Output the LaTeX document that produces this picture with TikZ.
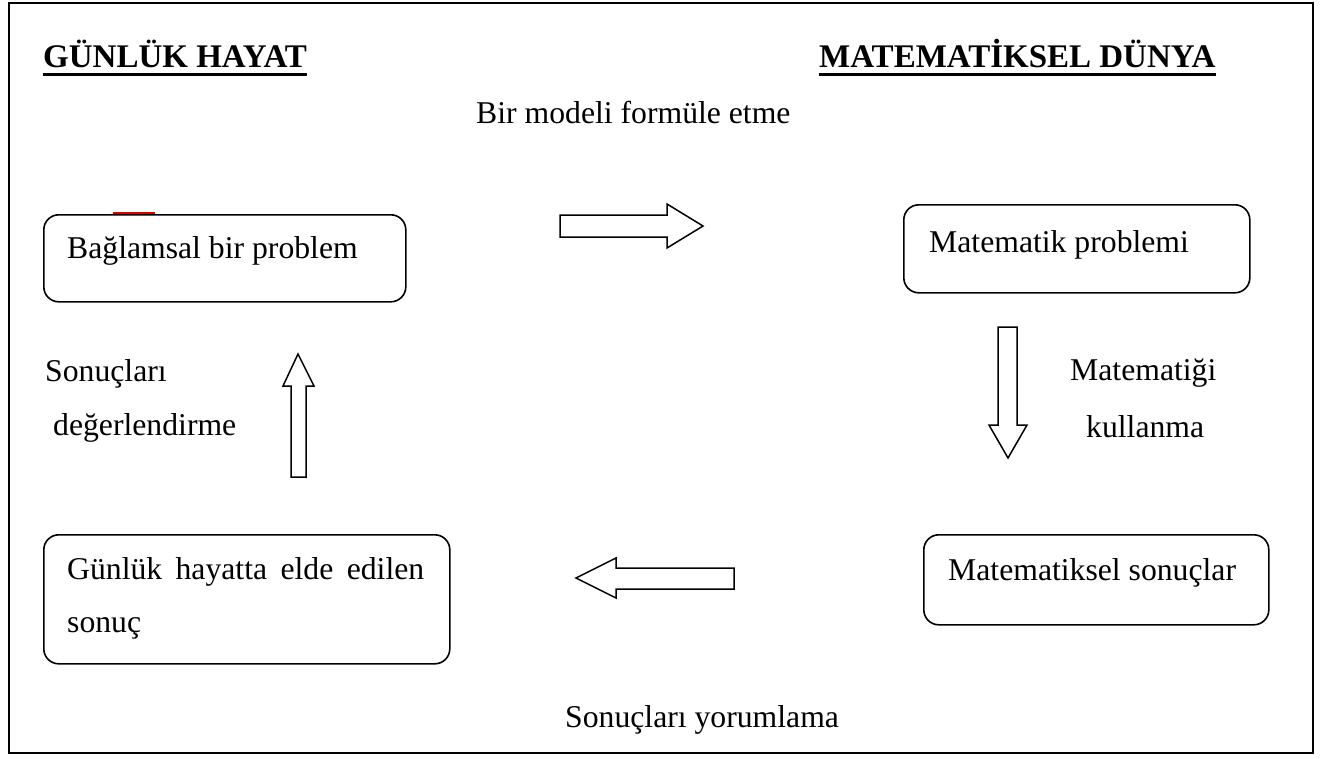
\documentclass[tikz,border=0pt]{standalone}
\usepackage{fontspec}
\setmainfont{Liberation Serif}
\begin{document}
\begin{tikzpicture}[x=1pt,y=-1pt,
  box/.style={draw=black,line width=1.6pt,rounded corners=15pt,fill=white,inner sep=0pt,anchor=north west},
  txt/.style={inner sep=0pt,anchor=base west,font=\fontsize{31.7}{38}\selectfont},
  head/.style={inner sep=0pt,anchor=base west,font=\fontsize{33}{40}\selectfont\bfseries},
  blockarrow/.style={draw=black,line width=1.5pt,fill=white,line join=miter}]
\useasboundingbox (0,0) rectangle (1324,758);
\fill[white] (0,0) rectangle (1324,758);
\draw[line width=2pt] (9,3) rectangle (1313,753);
% headings
\node[head] (h1) at (43,67) {GÜNLÜK HAYAT};
\node[head] (h2) at (819,67) {MATEMATİKSEL DÜNYA};
\draw[line width=3pt] ([yshift=-7pt]h1.base west) -- ([yshift=-7pt]h1.base east);
\draw[line width=3pt] ([yshift=-7pt]h2.base west) -- ([yshift=-7pt]h2.base east);
% label top
\node[txt] (l1) at (476,123) {Bir modeli formüle etme};
% small red mark
\draw[red!85!black,line width=2.5pt] (113,213) -- (155,213);
% boxes
\node[box,minimum width=362pt,minimum height=87pt] (b1) at (43,214) {};
\node[txt] (t1) at (67,258) {Bağlamsal bir problem};
\node[box,minimum width=346pt,minimum height=88pt] (b2) at (903,204) {};
\node[txt] (t2) at (929,252) {Matematik problemi};
\node[box,minimum width=345pt,minimum height=90pt] (b3) at (923,534) {};
\node[txt] (t3) at (948,580) {Matematiksel sonuçlar};
\node[box,minimum width=406pt,minimum height=129pt] (b4) at (43,534) {};
\node[txt] (t4a) at (67,579) {\makebox[357pt][s]{Günlük hayatta elde edilen}};
\node[txt] (t4b) at (67,632) {sonuç};
% side labels
\node[txt] (s1) at (45,381) {Sonuçları};
\node[txt] (s2) at (53,435) {değerlendirme};
\node[txt] (m1) at (1070,380) {Matematiği};
\node[txt] (m2) at (1086,437) {kullanma};
\node[txt] (y1) at (565,727) {Sonuçları yorumlama};
% block arrows
\draw[blockarrow] (560,215) -- (667,215) -- (667,204) -- (703,226) -- (667,248) -- (667,237) -- (560,237) -- cycle;
\draw[blockarrow] (998,327) -- (1017,327) -- (1017,425) -- (1027,425) -- (1008,458) -- (989,425) -- (998,425) -- cycle;
\draw[blockarrow] (734,568) -- (616,568) -- (616,558) -- (576,578) -- (616,598) -- (616,589) -- (734,589) -- cycle;
\draw[blockarrow] (291,477) -- (291,386) -- (283,386) -- (298,354) -- (314,386) -- (306,386) -- (306,477) -- cycle;
\end{tikzpicture}
\end{document}
